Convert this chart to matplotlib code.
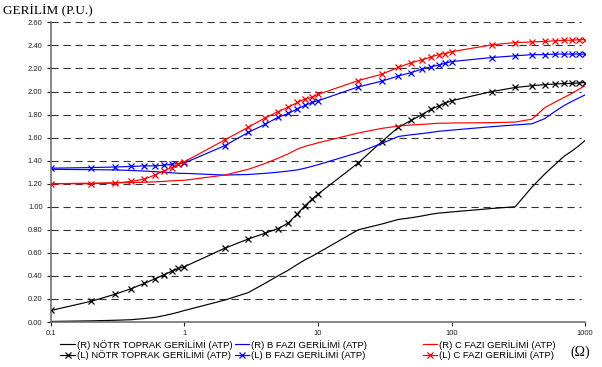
import matplotlib
matplotlib.use("Agg")
import matplotlib.pyplot as plt
from matplotlib.ticker import FixedLocator, NullLocator

# Direnç değerleri (Ω) - ATP taraması
direnc = [0.1, 0.2, 0.3, 0.4, 0.5, 0.6, 0.7, 0.8, 0.9,
          1, 2, 3, 4, 5, 6, 7, 8, 9,
          10, 20, 30, 40, 50, 60, 70, 80, 90,
          100, 200, 300, 400, 500, 600, 700, 800, 900, 1000]

# (R) gerilimleri
r_notr = [0.005, 0.01, 0.015, 0.02, 0.03, 0.04, 0.055, 0.07, 0.085,
          0.10, 0.19, 0.255, 0.335, 0.40, 0.45, 0.50, 0.54, 0.57,
          0.60, 0.80, 0.85, 0.89, 0.905, 0.92, 0.935, 0.945, 0.95,
          0.955, 0.985, 1.00, 1.17, 1.285, 1.37, 1.44, 1.485, 1.53, 1.575]
r_b = [1.325, 1.322, 1.32, 1.315, 1.31, 1.305, 1.30, 1.295, 1.29,
       1.29, 1.275, 1.28, 1.29, 1.30, 1.31, 1.32, 1.335, 1.35,
       1.365, 1.47, 1.55, 1.61, 1.625, 1.635, 1.645, 1.655, 1.66,
       1.665, 1.695, 1.71, 1.72, 1.765, 1.83, 1.88, 1.915, 1.945, 1.97]
r_c = [1.20, 1.205, 1.208, 1.21, 1.213, 1.216, 1.22, 1.225, 1.228,
       1.23, 1.275, 1.325, 1.375, 1.42, 1.46, 1.50, 1.525, 1.54,
       1.555, 1.64, 1.68, 1.70, 1.71, 1.715, 1.72, 1.725, 1.725,
       1.727, 1.73, 1.735, 1.76, 1.86, 1.91, 1.95, 1.985, 2.02, 2.05]

# (L) gerilimleri
l_notr = [0.10, 0.18, 0.24, 0.29, 0.335, 0.375, 0.41, 0.44, 0.465,
          0.48, 0.64, 0.72, 0.77, 0.81, 0.86, 0.94, 1.01, 1.065,
          1.11, 1.38, 1.565, 1.69, 1.75, 1.80, 1.845, 1.875, 1.90,
          1.92, 2.00, 2.035, 2.05, 2.06, 2.065, 2.07, 2.07, 2.075, 2.078]
l_b = [1.335, 1.34, 1.345, 1.35, 1.355, 1.355, 1.36, 1.37, 1.375,
       1.38, 1.53, 1.645, 1.715, 1.775, 1.81, 1.85, 1.88, 1.905,
       1.92, 2.04, 2.09, 2.135, 2.165, 2.195, 2.215, 2.23, 2.245,
       2.26, 2.295, 2.31, 2.32, 2.32, 2.325, 2.325, 2.325, 2.325, 2.325]
l_c = [1.20, 1.20, 1.205, 1.22, 1.24, 1.275, 1.31, 1.34, 1.37,
       1.39, 1.58, 1.69, 1.77, 1.825, 1.865, 1.905, 1.935, 1.95,
       1.975, 2.095, 2.15, 2.21, 2.25, 2.275, 2.30, 2.32, 2.33,
       2.345, 2.405, 2.425, 2.43, 2.435, 2.44, 2.445, 2.445, 2.45, 2.45]

y_ticks = [0.0, 0.2, 0.4, 0.6, 0.8, 1.0, 1.2, 1.4, 1.6, 1.8, 2.0, 2.2, 2.4, 2.6]
x_ticks = [0.1, 1, 10, 100, 1000]
x_labels = ["0.1", "1", "10", "100", "1000"]

plt.rcParams['font.family'] = ['Liberation Sans', 'DejaVu Sans']

fig = plt.figure(figsize=(6.02, 3.67), dpi=100)
ax = fig.add_axes([0.0847, 0.1226, 0.8871, 0.8164])

lw = 0.85
ms = 4.8
h1, = ax.plot(direnc, r_notr, color='black', lw=lw)
h2, = ax.plot(direnc, l_notr, color='black', lw=lw, marker='x', ms=ms, mew=0.9)
h3, = ax.plot(direnc, r_b, color='#0000ff', lw=lw)
h4, = ax.plot(direnc, l_b, color='#0000ff', lw=lw, marker='x', ms=ms, mew=0.9)
h5, = ax.plot(direnc, r_c, color='#ff0000', lw=lw)
h6, = ax.plot(direnc, l_c, color='#ff0000', lw=lw, marker='x', ms=ms, mew=0.9)

ax.set_xscale('log')
ax.set_xlim(0.1, 1000)
ax.set_ylim(0, 2.6)
ax.xaxis.set_major_locator(FixedLocator(x_ticks))
ax.xaxis.set_minor_locator(NullLocator())
ax.set_xticklabels(x_labels)
ax.set_yticks(y_ticks)
ax.set_yticklabels([f"{v:.2f}" for v in y_ticks])
ax.tick_params(axis='both', labelsize=5.5, colors='#222222', length=3,
               width=0.8, pad=3)
ax.tick_params(axis='x', pad=2.5)

# kesikli yatay ızgara
for v in y_ticks[1:]:
    ax.plot([0.1, 930], [v, v], color='#333333', lw=0.8,
            dashes=(6.5, 4.3), zorder=0.5)

for s in ['top', 'right']:
    ax.spines[s].set_visible(False)
for s in ['left', 'bottom']:
    ax.spines[s].set_color('#666666')
    ax.spines[s].set_linewidth(1.1)

fig.text(0.005, 0.972, "GERİLİM (P.U.)", family='Liberation Serif',
         fontsize=9.5, va='center', ha='left')
fig.text(0.963, 0.04, "(Ω)", family='Liberation Serif', fontsize=10,
         va='center', ha='center')

# lejant: üç sütun, ayrı ayrı konumlandırılmış
leg_kw = dict(frameon=False, fontsize=6.8, handlelength=1.55, handletextpad=0.2,
              labelspacing=0.02, borderpad=0, borderaxespad=0,
              loc='upper left')
leg1 = fig.legend([h1, h2], ["(R) NÖTR TOPRAK GERİLİMİ (ATP)",
                             "(L) NÖTR TOPRAK GERİLİMİ (ATP)"],
                  bbox_to_anchor=(0.1, 0.074), **leg_kw)
leg2 = fig.legend([h3, h4], ["(R) B FAZI GERİLİMİ (ATP)",
                             "(L) B FAZI GERİLİMİ (ATP)"],
                  bbox_to_anchor=(0.39, 0.074), **leg_kw)
leg3 = fig.legend([h5, h6], ["(R) C FAZI GERİLİMİ (ATP)",
                             "(L) C FAZI GERİLİMİ (ATP)"],
                  bbox_to_anchor=(0.702, 0.074), **leg_kw)

fig.savefig("out.png", dpi=100)
